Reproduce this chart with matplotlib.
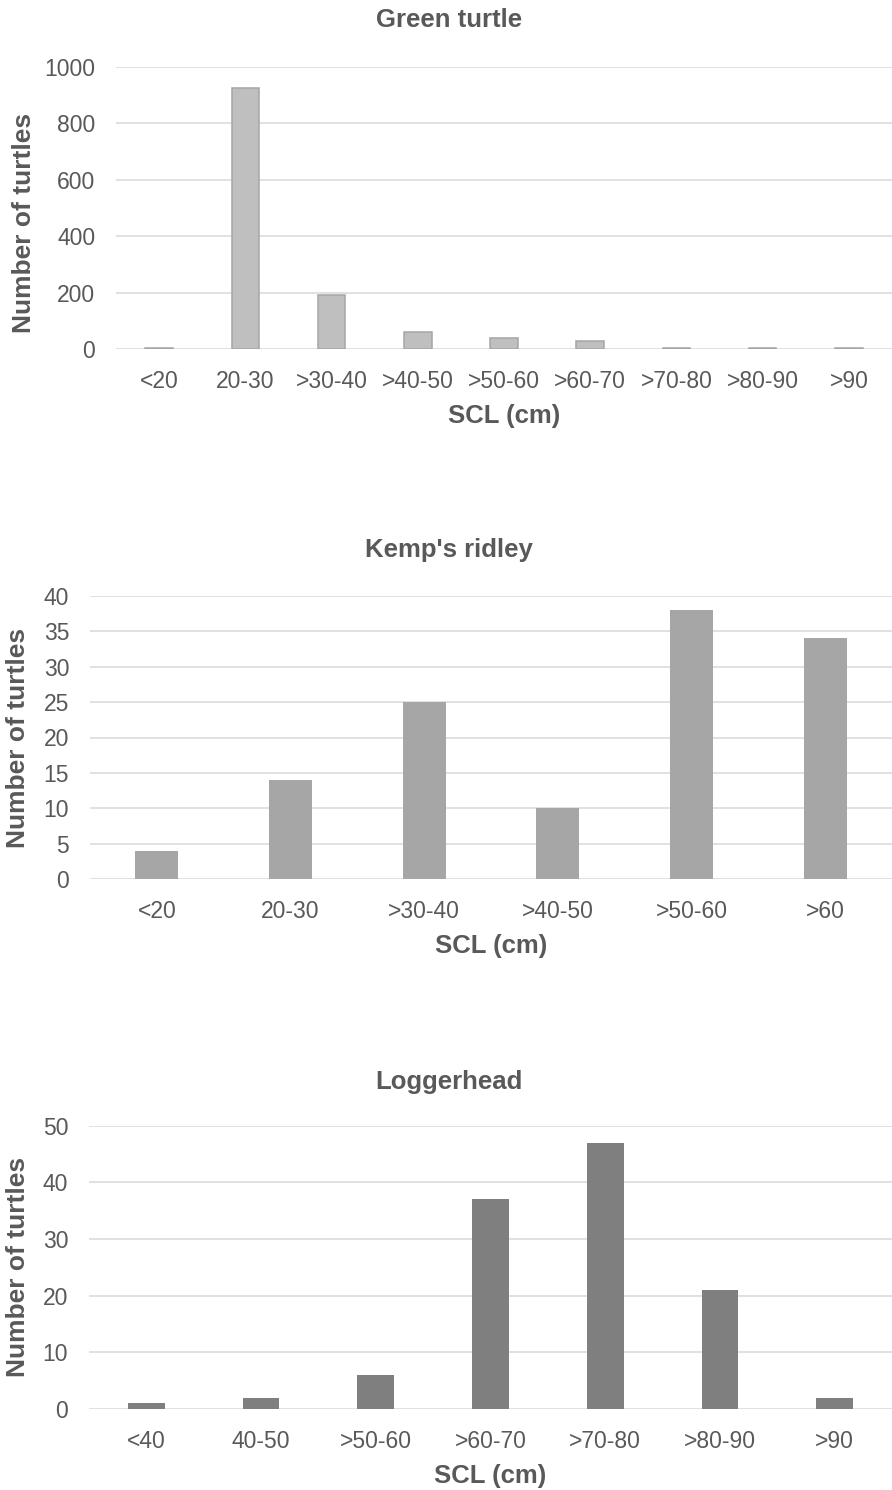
import matplotlib
matplotlib.use("Agg")
import matplotlib.pyplot as plt

plt.rcParams['font.family'] = ['Liberation Sans', 'DejaVu Sans']

# data
green_cats = ['<20', '20-30', '>30-40', '>40-50', '>50-60', '>60-70', '>70-80', '>80-90', '>90']
green_vals = [2, 923, 190, 60, 40, 27, 4, 2, 2]

kemp_cats = ['<20', '20-30', '>30-40', '>40-50', '>50-60', '>60']
kemp_vals = [4, 14, 25, 10, 38, 34]

logger_cats = ['<40', '40-50', '>50-60', '>60-70', '>70-80', '>80-90', '>90']
logger_vals = [1, 2, 6, 37, 47, 21, 2]

W, H = 892, 1490
TEXT = '#595959'
GRID = '#D9D9D9'

fig = plt.figure(figsize=(W / 100, H / 100), dpi=100)


def make_axes(left, top, bottom):
    # pixel box (top-origin) -> figure fraction
    return fig.add_axes([left / W, 1 - bottom / H, (W - left) / W, (bottom - top) / H])


def draw_panel(ax, cats, vals, ymax, step, color, edge, title, title_y, ylab_x, ylab_y=0.5):
    x = range(len(cats))
    if edge:
        ax.bar(x, vals, width=0.32, color=color, edgecolor=edge, linewidth=1.1, zorder=3)
    else:
        ax.bar(x, vals, width=0.32, color=color, zorder=3)
    ax.set_xlim(-0.5, len(cats) - 0.5)
    ax.set_ylim(0, ymax)
    ax.set_yticks(range(0, ymax + 1, step))
    ax.set_xticks(list(x))
    ax.set_xticklabels(cats)
    ax.grid(axis='y', color=GRID, linewidth=1.1, zorder=0)
    ax.set_axisbelow(True)
    for s in ax.spines.values():
        s.set_visible(False)
    ax.tick_params(axis='both', length=0, labelsize=16.5, colors=TEXT)
    ax.tick_params(axis='x', pad=15)
    ax.tick_params(axis='y', pad=15)
    ax.set_xlabel('SCL (cm)', fontsize=18.5, fontweight='bold', color=TEXT, labelpad=8)
    ax.set_ylabel('Number of turtles', fontsize=19, fontweight='bold', color=TEXT, va='center')
    # ylabel sits near the left figure edge
    pos = ax.get_position()
    ax.yaxis.set_label_coords((ylab_x / W - pos.x0) / pos.width, ylab_y)
    # title is centered on the whole figure, not the plot area
    ax.set_title(title, fontsize=18.5, fontweight='bold', color=TEXT,
                 x=(449 / W - pos.x0) / pos.width,
                 y=1 + title_y / (pos.height * H), va='center', pad=0)


ax1 = make_axes(116, 66.7, 349)
draw_panel(ax1, green_cats, green_vals, 1000, 200, '#BFBFBF', '#A5A5A5', 'Green turtle', 47, 24, 0.446)

ax2 = make_axes(90, 596, 879)
draw_panel(ax2, kemp_cats, kemp_vals, 40, 5, '#A6A6A6', None, "Kemp's ridley", 46, 18)

ax3 = make_axes(89, 1125.7, 1409)
draw_panel(ax3, logger_cats, logger_vals, 50, 10, '#7F7F7F', None, 'Loggerhead', 44, 18)

fig.savefig('out.png', dpi=100)
